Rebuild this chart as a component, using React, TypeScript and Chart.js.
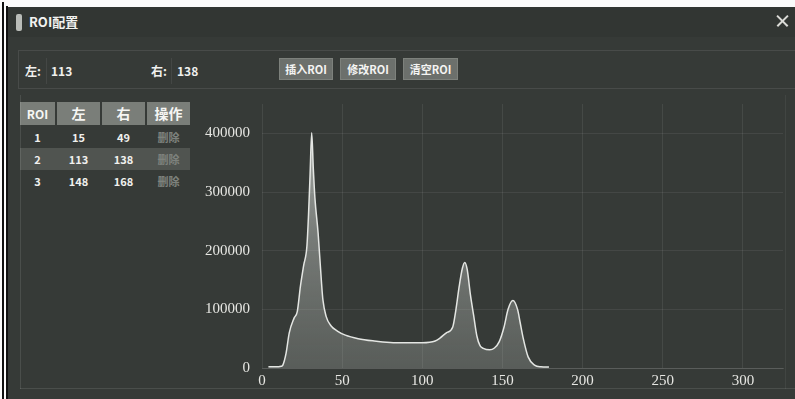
import React, { useEffect, useRef } from "react";
import { Chart, registerables } from "chart.js";

Chart.register(...registerables);

// Histogram data (gray level -> count)
const grayLevels = [4, 8, 12, 13, 15, 17, 20, 22, 24, 26, 28, 29, 30, 31, 32, 33, 35, 37, 38, 40, 43, 47, 52, 60, 70, 80, 90, 100, 108, 111, 115, 119, 121, 123, 125, 126.5, 128, 130, 132, 134, 136, 138, 142, 145, 148, 151, 153.5, 156.5, 159.5, 161, 163, 166, 170, 174, 179];
const counts = [2000, 2000, 3000, 5000, 25000, 60000, 85000, 96000, 140000, 175000, 207000, 260000, 330000, 401000, 340000, 290000, 230000, 150000, 116000, 88000, 72000, 63000, 56000, 50000, 46000, 43500, 43000, 43000, 46000, 51000, 60000, 70000, 100000, 139000, 170000, 180000, 168000, 125000, 90000, 55000, 38000, 33500, 31000, 34000, 45000, 70000, 100000, 115000, 99000, 78000, 50000, 19000, 5000, 2000, 1500];

const xTickStep = 50;
const yTickStep = 100000;
const xMax = 325;
const yMax = 450000;

// ROI table
const roiIds = ["1", "2", "3"];
const roiLeft = ["15", "113", "148"];
const roiRight = ["49", "138", "168"];
const tableHeaders = ["ROI", "左", "右", "操作"];
const buttonLabels = ["插入ROI", "修改ROI", "清空ROI"];

const UI_FONT = '"Noto Sans CJK SC", "Noto Sans", sans-serif';

function HistogramChart() {
  const ref = useRef<HTMLCanvasElement | null>(null);
  useEffect(() => {
    if (!ref.current) return;
    const points = grayLevels.map((x, i) => ({ x, y: counts[i] }));
    const isMajor = (v: number, step: number) => Math.abs(v / step - Math.round(v / step)) < 1e-6;
    const chart = new Chart(ref.current, {
      type: "line",
      data: {
        datasets: [
          {
            data: points,
            borderColor: "#e4e6e3",
            borderWidth: 1.5,
            pointRadius: 0,
            fill: "origin",
            cubicInterpolationMode: "monotone",
            backgroundColor: (ctx: any) => {
              const { chart } = ctx;
              const area = chart.chartArea;
              if (!area) return "rgba(200,200,200,0.3)";
              const g = chart.ctx.createLinearGradient(0, area.top, 0, area.bottom);
              g.addColorStop(0, "rgba(225,228,224,0.75)");
              g.addColorStop(0.5, "rgba(200,204,200,0.45)");
              g.addColorStop(1, "rgba(170,175,170,0.30)");
              return g;
            },
          },
        ],
      },
      options: {
        animation: false,
        responsive: false,
        maintainAspectRatio: false,
        layout: { padding: { top: 0, right: 3, left: 0, bottom: 0 } },
        plugins: { legend: { display: false }, tooltip: { enabled: false } },
        scales: {
          x: {
            type: "linear",
            min: 0,
            max: xMax,
            afterFit: (s: any) => { s.height = 21; },
            ticks: {
              stepSize: xTickStep / 2,
              autoSkip: false,
              color: "#e6e6e2",
              padding: 4,
              font: { family: '"Liberation Serif", serif', size: 15 },
              maxRotation: 0,
              callback: (v: any) => (isMajor(Number(v), xTickStep) ? String(v) : ""),
            },
            grid: {
              color: (c: any) => (c.tick && isMajor(c.tick.value, xTickStep) ? "rgba(255,255,255,0.08)" : "rgba(0,0,0,0)"),
              drawTicks: false,
            },
            border: { color: "rgba(255,255,255,0.12)" },
          },
          y: {
            min: 0,
            max: yMax,
            afterFit: (s: any) => { s.width = 67; },
            ticks: {
              stepSize: yTickStep / 2,
              autoSkip: false,
              color: "#e6e6e2",
              padding: 12,
              font: { family: '"Liberation Serif", serif', size: 15 },
              callback: (v: any) => (isMajor(Number(v), yTickStep) ? String(v) : ""),
            },
            grid: {
              color: (c: any) => (c.tick && isMajor(c.tick.value, yTickStep) ? "rgba(255,255,255,0.07)" : "rgba(0,0,0,0)"),
              drawTicks: false,
            },
            border: { display: false },
          },
        },
      },
    } as any);
    return () => chart.destroy();
  }, []);
  return <canvas ref={ref} width={592} height={306} style={{ position: "absolute", left: 195, top: 83, width: 592, height: 306 }} />;
}

export default function App() {
  const colLefts = [20, 57, 102, 147];
  const colWidths = [35, 43, 43, 43];
  const rows = roiIds.map((id, i) => [id, roiLeft[i], roiRight[i], "删除"]);
  const btnLefts = [279, 340, 403];
  const btnWidths = [54, 56, 55];
  return (
    <div style={{ position: "relative", width: 795, height: 399, background: "#fbfbfb", overflow: "hidden", fontFamily: UI_FONT }}>
      <style>{`body{margin:0}`}</style>
      {/* left frame lines */}
      <div style={{ position: "absolute", left: 2, top: 2, width: 2, height: 397, background: "#111" }} />
      <div style={{ position: "absolute", left: 6, top: 6, width: 2, height: 393, background: "#111" }} />
      {/* dialog */}
      <div style={{ position: "absolute", left: 8, top: 7, width: 787, height: 392, background: "#363a37" }}>
        {/* title bar */}
        <div style={{ position: "absolute", left: 0, top: 0, width: 787, height: 30, background: "#323633" }} />
        <div style={{ position: "absolute", left: 8, top: 7, width: 6, height: 17, background: "#b9bcb8", borderRadius: 2 }} />
        <div style={{ position: "absolute", left: 21, top: 5, color: "#f2f2f0", fontSize: 13, fontWeight: 700, lineHeight: "20px" }}>ROI配置</div>
        {/* close */}
        <div style={{ position: "absolute", left: 767, top: 13, width: 15, height: 1.6, background: "#dcdcd8", transform: "rotate(45deg)" }} />
        <div style={{ position: "absolute", left: 767, top: 13, width: 15, height: 1.6, background: "#dcdcd8", transform: "rotate(-45deg)" }} />
        {/* toolbar panel */}
        <div style={{ position: "absolute", left: 10, top: 43, width: 780, height: 37, border: "1px solid rgba(255,255,255,0.09)" }} />
        <div style={{ position: "absolute", left: 17, top: 55, color: "#f0f0ee", fontSize: 12, fontWeight: 700, lineHeight: "18px" }}>左:</div>
        <div style={{ position: "absolute", left: 38, top: 51, width: 1, height: 26, background: "rgba(255,255,255,0.07)" }} />
        <div style={{ position: "absolute", left: 43, top: 55, color: "#f0f0ee", fontSize: 12, fontWeight: 700, lineHeight: "18px" }}>113</div>
        <div style={{ position: "absolute", left: 143, top: 55, color: "#f0f0ee", fontSize: 12, fontWeight: 700, lineHeight: "18px" }}>右:</div>
        <div style={{ position: "absolute", left: 163, top: 51, width: 1, height: 26, background: "rgba(255,255,255,0.07)" }} />
        <div style={{ position: "absolute", left: 169, top: 55, color: "#f0f0ee", fontSize: 12, fontWeight: 700, lineHeight: "18px" }}>138</div>
        {buttonLabels.map((b, i) => (
          <div key={b} style={{ position: "absolute", left: btnLefts[i] - 8, top: 51, width: btnWidths[i], height: 22, background: "#6c706c", border: "1px solid #7d817c", boxSizing: "border-box", color: "#f4f4f2", fontSize: 11, fontWeight: 700, lineHeight: "20px", textAlign: "center" }}>{b}</div>
        ))}
        {/* table */}
        {tableHeaders.map((h, i) => (
          <div key={h} style={{ position: "absolute", left: colLefts[i] - 8, top: 95, width: colWidths[i], height: 23, background: "#7a7e79", color: "#f6f6f4", fontSize: i === 0 ? 12 : 14, fontWeight: 700, lineHeight: "23px", textAlign: "center" }}>{h}</div>
        ))}
        <div style={{ position: "absolute", left: 12, top: 141, width: 170, height: 22, background: "#505450" }} />
        {rows.map((r, ri) =>
          r.map((c, ci) => (
            <div key={ri + "-" + ci} style={{ position: "absolute", left: colLefts[ci] - 8, top: 119 + ri * 22, width: colWidths[ci], height: 22, color: ci === 3 ? "#7e827d" : "#f0f0ee", fontSize: 11, fontWeight: 700, lineHeight: "22px", textAlign: "center" }}>{c}</div>
          ))
        )}
        {/* lower panel borders */}
        <div style={{ position: "absolute", left: 12, top: 88, width: 1, height: 294, background: "rgba(255,255,255,0.1)" }} />
        <div style={{ position: "absolute", left: 12, top: 381, width: 776, height: 1, background: "rgba(255,255,255,0.1)" }} />
        <div style={{ position: "absolute", left: 777, top: 88, width: 1, height: 294, background: "rgba(255,255,255,0.06)" }} />
      </div>
      <HistogramChart />
    </div>
  );
}
